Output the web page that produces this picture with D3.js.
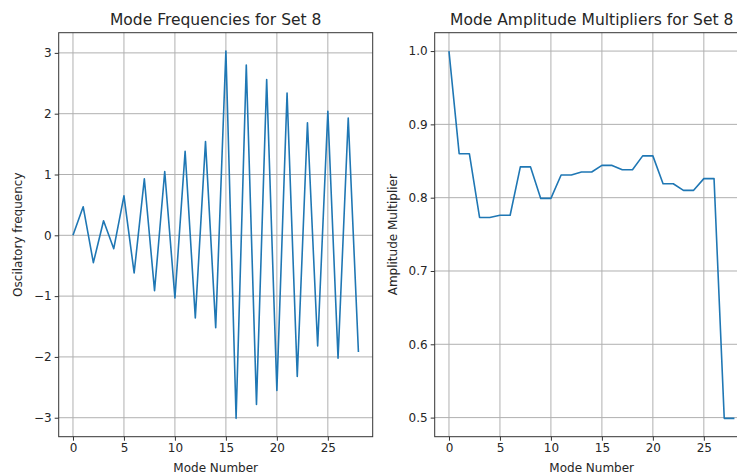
<!DOCTYPE html>
<html>
<head>
<meta charset="utf-8">
<script src="https://cdn.jsdelivr.net/npm/d3@7"></script>
<style>
  body { margin: 0; background: #fff; overflow: hidden; }
  svg { display: block; font-family: "DejaVu Sans", sans-serif; }
</style>
</head>
<body>
<div id="chart"></div>
<script>
// mode numbers 0..28
var modes = d3.range(0, 29);

// left panel: oscillatory frequency per mode
var frequencies = [0, 0.47, -0.45, 0.24, -0.22, 0.65, -0.62, 0.93, -0.91, 1.05,
    -1.03, 1.38, -1.36, 1.54, -1.52, 3.03, -3.01, 2.80, -2.78, 2.56,
    -2.55, 2.34, -2.32, 1.85, -1.82, 2.04, -2.02, 1.93, -1.92];

// right panel: amplitude multiplier per mode
var amplitudes = [1.0, 0.860, 0.860, 0.773, 0.773, 0.776, 0.776, 0.842, 0.842, 0.799,
    0.799, 0.831, 0.831, 0.835, 0.835, 0.844, 0.844, 0.838, 0.838, 0.857,
    0.857, 0.819, 0.819, 0.810, 0.810, 0.826, 0.826, 0.499, 0.499];

var xTicks = [0, 5, 10, 15, 20, 25];
var freqTicks = [-3, -2, -1, 0, 1, 2, 3];
var ampTicks = [0.5, 0.6, 0.7, 0.8, 0.9, 1.0];

var W = 737, H = 473;
var textColor = "#262626";
var svg = d3.select("#chart").append("svg")
    .attr("width", W)
    .attr("height", H);

// matplotlib style 5% margins around the data
function padded(vals) {
    var ext = d3.extent(vals);
    var m = (ext[1] - ext[0]) * 0.05;
    return [ext[0] - m, ext[1] + m];
}

function drawPanel(opts) {
    var left = opts.left, top = 32.7, width = 314, height = 404;

    var x = d3.scaleLinear().domain(padded(modes)).range([left, left + width]);
    var y = d3.scaleLinear().domain(padded(opts.values)).range([top + height, top]);

    var g = svg.append("g");

    // clip for the line
    svg.append("clipPath").attr("id", opts.id)
        .append("rect")
        .attr("x", left).attr("y", top)
        .attr("width", width).attr("height", height);

    // grid
    g.selectAll(".vgrid")
        .data(xTicks)
        .enter().append("line")
        .attr("x1", d => x(d)).attr("x2", d => x(d))
        .attr("y1", top).attr("y2", top + height)
        .attr("stroke", "#b0b0b0").attr("stroke-width", 1);
    g.selectAll(".hgrid")
        .data(opts.ticks)
        .enter().append("line")
        .attr("x1", left).attr("x2", left + width)
        .attr("y1", d => y(d)).attr("y2", d => y(d))
        .attr("stroke", "#b0b0b0").attr("stroke-width", 1);

    // data line
    g.append("path")
        .datum(modes)
        .attr("clip-path", "url(#" + opts.id + ")")
        .attr("fill", "none")
        .attr("stroke", "#1f77b4")
        .attr("stroke-width", 1.6)
        .attr("stroke-linejoin", "round")
        .attr("d", d3.line()
            .x(function (d) { return x(d); })
            .y(function (d, i) { return y(opts.values[i]); }));

    // axes
    var xAxis = g.append("g")
        .attr("transform", "translate(0," + (top + height) + ")")
        .call(d3.axisBottom(x).tickValues(xTicks).tickSize(4).tickPadding(3));
    var yAxis = g.append("g")
        .attr("transform", "translate(" + left + ",0)")
        .call(d3.axisLeft(y).tickValues(opts.ticks).tickFormat(opts.format).tickSize(4).tickPadding(3));

    [xAxis, yAxis].forEach(function (a) {
        a.select(".domain").remove();
        a.selectAll("line").attr("stroke", "#333").attr("stroke-width", 1);
        a.selectAll("text")
            .attr("fill", textColor)
            .style("font-size", "12px")
            .style("font-family", "DejaVu Sans, sans-serif");
    });

    // spines
    g.append("rect")
        .attr("x", left).attr("y", top)
        .attr("width", width).attr("height", height)
        .attr("fill", "none")
        .attr("stroke", "#333")
        .attr("stroke-width", 1);

    // title
    g.append("text")
        .attr("x", left + width / 2)
        .attr("y", 25)
        .attr("text-anchor", "middle")
        .style("font-size", "15.5px")
        .attr("fill", textColor)
        .text(opts.title);

    // x label
    g.append("text")
        .attr("x", left + width / 2)
        .attr("y", 471.5)
        .attr("text-anchor", "middle")
        .style("font-size", "12px")
        .attr("fill", textColor)
        .text("Mode Number");

    // y label
    g.append("text")
        .attr("transform", "translate(" + opts.ylabelX + "," + (top + height / 2) + ") rotate(-90)")
        .attr("text-anchor", "middle")
        .attr("dy", "0.35em")
        .style("font-size", "12px")
        .attr("fill", textColor)
        .text(opts.ylabel);
}

drawPanel({
    id: "clipFreq",
    left: 58.7,
    values: frequencies,
    ticks: freqTicks,
    format: d3.format("d"),
    title: "Mode Frequencies for Set 8",
    ylabel: "Oscilatory frequency",
    ylabelX: 18
});

drawPanel({
    id: "clipAmp",
    left: 434.7,
    values: amplitudes,
    ticks: ampTicks,
    format: d3.format(".1f"),
    title: "Mode Amplitude Multipliers for Set 8",
    ylabel: "Amplitude Multiplier",
    ylabelX: 393
});
</script>
</body>
</html>
